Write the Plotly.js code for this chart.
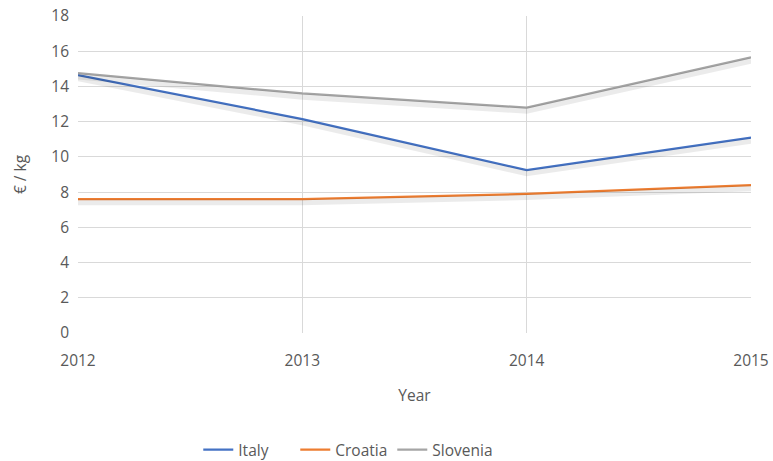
<!DOCTYPE html>
<html>
<head>
<meta charset="utf-8">
<script src="https://cdn.plot.ly/plotly-3.0.1.min.js"></script>
<style>html,body{margin:0;padding:0;background:#fff;}#chart{width:773px;height:461px;}</style>
</head>
<body>
<div id="chart"></div>
<script>
const years = [2012, 2013, 2014, 2015];
const italy = [14.65, 12.15, 9.25, 11.1];
const croatia = [7.6, 7.6, 7.9, 8.4];
const slovenia = [14.75, 13.6, 12.8, 15.65];
const seriesNames = ['Italy', 'Croatia', 'Slovenia'];
const seriesColors = ['#4472C4', '#ED7D31', '#A5A5A5'];
const yTicks = [0, 2, 4, 6, 8, 10, 12, 14, 16, 18];

const all = [italy, croatia, slovenia];
const shadowTraces = all.map(v => ({
  x: years, y: v, type: 'scatter', mode: 'lines', yaxis: 'y2',
  line: {color: 'rgba(0,0,0,0.08)', width: 6}, showlegend: false, hoverinfo: 'skip'
}));
const traces = all.map((v, i) => ({
  x: years, y: v, type: 'scatter', mode: 'lines', name: seriesNames[i],
  line: {color: seriesColors[i], width: 2.25}
}));
// invisible spacer entry so the last legend label is not clipped
const spacer = {x: [null], y: [null], type: 'scatter', mode: 'lines', name: ' ',
  showlegend: true, line: {color: 'rgba(0,0,0,0)', width: 0}, hoverinfo: 'skip'};

const font = {family: 'Open Sans, sans-serif', size: 15.5, color: '#595959'};
const layout = {
  width: 773, height: 461,
  margin: {l: 78, r: 22, t: 16, b: 128},
  paper_bgcolor: '#fff', plot_bgcolor: '#fff',
  font: font,
  showlegend: true,
  legend: {orientation: 'h', x: 0.2565, xanchor: 'left', xref: 'container',
           y: 0.024, yanchor: 'middle', yref: 'container',
           itemwidth: 30, entrywidth: 52, entrywidthmode: 'pixels',
           font: font, traceorder: 'normal', bgcolor: 'rgba(0,0,0,0)'},
  xaxis: {
    range: [2012, 2015], tickvals: years, ticktext: years.map(String),
    showgrid: true, gridcolor: '#d9d9d9', gridwidth: 1, zeroline: false,
    showline: false, ticks: '', ticklabelstandoff: 16, automargin: false,
    title: {text: 'Year', font: font, standoff: 20}
  },
  yaxis: {
    range: [0, 18], tickvals: yTicks, showgrid: true, gridcolor: '#d9d9d9', gridwidth: 1,
    zeroline: false, showline: false, ticks: '', ticklabelstandoff: 8, automargin: false,
    title: {text: '€ / kg', font: font, standoff: 20}
  },
  yaxis2: {
    overlaying: 'y', range: [0.18, 18.18], visible: false, showgrid: false
  }
};
Plotly.newPlot('chart', shadowTraces.concat(traces, [spacer]), layout, {displayModeBar: false, staticPlot: true});
</script>
</body>
</html>
